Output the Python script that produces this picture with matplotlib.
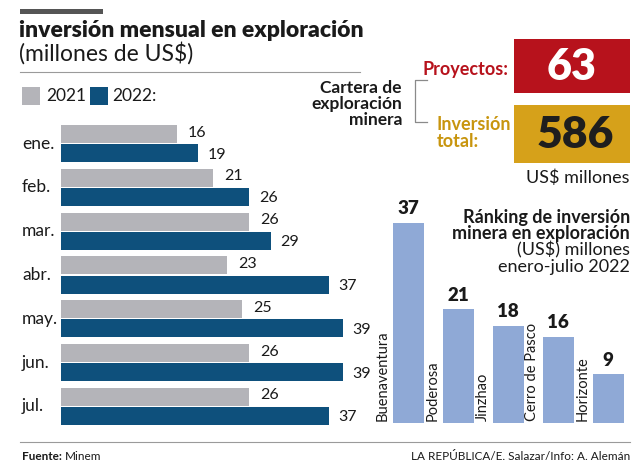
import matplotlib.pyplot as plt
import numpy as np

# data
months = ['ene.', 'feb.', 'mar.', 'abr.', 'may.', 'jun.', 'jul.']
inv_2021 = [16, 21, 26, 23, 25, 26, 26]
inv_2022 = [19, 26, 29, 37, 39, 39, 37]

empresas = ['Buenaventura', 'Poderosa', 'Jinzhao', 'Cerro de Pasco', 'Horizonte']
ranking = [37, 21, 18, 16, 9]

proyectos = 63
inversion_total = 586

GRIS = '#b4b4b9'
AZUL = '#0e507c'
CELESTE = '#8fa9d6'
ROJO = '#b7121c'
ORO = '#d6a11a'
ORO_TXT = '#c8950e'
TXT = '#1a1a1a'

W, H = 640, 469
FONT = 'Lato'


def px(x, y):
    return x / W, 1 - y / H


def ftext(fig, x, y, s, **kw):
    kw.setdefault('family', FONT)
    kw.setdefault('color', TXT)
    return fig.text(*px(x, y), s, **kw)


def hline(fig, x0, x1, y, **kw):
    fig.add_artist(plt.Line2D([x0 / W, x1 / W], [1 - y / H, 1 - y / H], **kw))


def rect(fig, x, y, w, h, color):
    fig.add_artist(plt.Rectangle((x / W, 1 - (y + h) / H), w / W, h / H,
                                 color=color, transform=fig.transFigure, lw=0))


def main():
    fig = plt.figure(figsize=(W / 100, H / 100), dpi=100)
    fig.patch.set_facecolor('white')

    # header
    rect(fig, 20, 9, 83, 5, '#555555')
    ftext(fig, 19, 30, 'inversión mensual en exploración', fontsize=16.5,
          weight='heavy', va='center')
    ftext(fig, 19, 53, '(millones de US$)', fontsize=16.5, va='center')
    hline(fig, 20, 360, 72, color='#9a9a9a', lw=0.8)

    # legend
    rect(fig, 22, 87, 18, 18, GRIS)
    ftext(fig, 46, 96, '2021', fontsize=12.5, va='center')
    rect(fig, 90, 87, 18, 18, AZUL)
    ftext(fig, 112, 96, '2022:', fontsize=12.5, va='center')

    # monthly bars
    y = np.arange(len(months))
    off, bh = 0.22, 0.41
    ax = fig.add_axes([61 / W, 1 - 425 / H, 282 / W, 300 / H])
    ax.barh(y - off, inv_2021, height=bh, color=GRIS)
    ax.barh(y + off, inv_2022, height=bh, color=AZUL)
    ax.set_xlim(0, 39)
    ax.set_ylim(6 + off + bh / 2, -off - bh / 2)
    ax.axis('off')
    for i, (a, b) in enumerate(zip(inv_2021, inv_2022)):
        ax.annotate(str(a), (a, i - off), xytext=(8, 1), textcoords='offset points',
                    va='center', ha='left', fontsize=11.5, family=FONT, color=TXT)
        ax.annotate(str(b), (b, i + off), xytext=(7, -1), textcoords='offset points',
                    va='center', ha='left', fontsize=11.5, family=FONT, color=TXT,
                    annotation_clip=False)
        ax.annotate(months[i], (0, i), xytext=(-39, 0), textcoords='offset pixels',
                    va='center', ha='left', fontsize=12.5, family=FONT, color=TXT)

    # cartera block
    for k, line in enumerate(['Cartera de', 'exploración', 'minera']):
        ftext(fig, 402, 88 + 16 * k, line, fontsize=12.5, weight='bold',
              ha='right', va='center')
    brk = '#8a8a8a'
    fig.add_artist(plt.Line2D(np.array([427, 415, 415, 427]) / W,
                              1 - np.array([80, 80, 122, 122]) / H,
                              color=brk, lw=0.9))
    ftext(fig, 508, 69, 'Proyectos:', fontsize=13, weight='bold', color=ROJO,
          ha='right', va='center')
    rect(fig, 514, 39, 116, 54, ROJO)
    ftext(fig, 572, 67, str(proyectos), fontsize=31, weight='heavy', color='white',
          ha='center', va='center')
    ftext(fig, 437, 124, 'Inversión', fontsize=13, weight='bold', color=ORO_TXT,
          va='center')
    ftext(fig, 437, 141, 'total:', fontsize=13, weight='bold', color=ORO_TXT,
          va='center')
    rect(fig, 514, 105, 116, 58, ORO)
    ftext(fig, 575, 135, str(inversion_total), fontsize=32, weight='heavy',
          color='#1e1e1e', ha='center', va='center')
    ftext(fig, 630, 178, 'US$ millones', fontsize=13, ha='right', va='center')

    # ranking
    for k, (line, wt) in enumerate([('Ránking de inversión', 'bold'),
                                    ('minera en exploración', 'bold'),
                                    ('(US$) millones', 'normal'),
                                    ('enero-julio 2022', 'normal')]):
        ftext(fig, 630, 217 + 16.5 * k, line, fontsize=13, weight=wt,
              ha='right', va='center')

    ax2 = fig.add_axes([383 / W, 1 - 423 / H, 250 / W, 200 / H])
    xs = np.arange(len(empresas))
    bw = 0.62
    ax2.bar(xs, ranking, width=bw, color=CELESTE)
    ax2.set_xlim(-0.5, len(empresas) - 0.5)
    ax2.set_ylim(0, 37)
    ax2.axis('off')
    for i, (name, v) in enumerate(zip(empresas, ranking)):
        ax2.annotate(str(v), (i, v), xytext=(0, 4), textcoords='offset points',
                     ha='center', va='bottom', fontsize=13.5, weight='heavy',
                     family=FONT, color=TXT, annotation_clip=False)
        ax2.annotate(name, (i - bw / 2, 0), xytext=(-3, 2), textcoords='offset pixels',
                     ha='right', va='bottom', rotation=90, fontsize=10.5,
                     family=FONT, color=TXT)

    # footer
    hline(fig, 20, 630, 442, color='#9a9a9a', lw=0.8)
    ftext(fig, 22, 456, 'Fuente:', fontsize=8.5, weight='bold', va='center')
    ftext(fig, 65, 456, 'Minem', fontsize=8.5, va='center')
    ftext(fig, 630, 456, 'LA REPÚBLICA/E. Salazar/Info: A. Alemán', fontsize=8.5,
          ha='right', va='center')

    fig.savefig('out.png', dpi=100)


if __name__ == '__main__':
    main()
